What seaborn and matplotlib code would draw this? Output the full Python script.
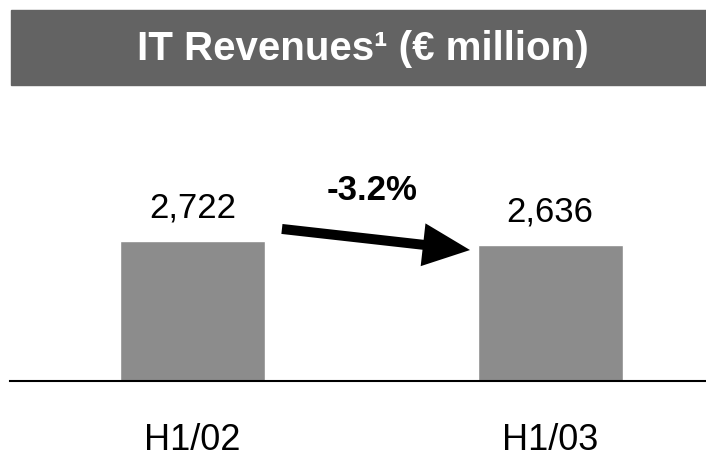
import matplotlib
matplotlib.use("Agg")
import matplotlib.pyplot as plt
from matplotlib.patches import Rectangle
import pandas as pd
import seaborn as sns

periods = ["H1/02", "H1/03"]
revenues = [2722, 2636]
value_labels = ["2,722", "2,636"]
change_label = "-3.2%"
title = "IT Revenues\u00b9 (\u20ac million)"

sns.set_style("white")
plt.rcParams['font.family'] = ['Liberation Sans Narrow', 'Liberation Sans', 'DejaVu Sans']
plt.rcParams['text.color'] = 'black'
plt.rcParams['xtick.color'] = 'black'

df = pd.DataFrame({"period": periods, "revenue": revenues})

fig = plt.figure(figsize=(7.06, 4.59), dpi=100)
ax = fig.add_axes([10 / 706, 78 / 459, 696 / 706, 286 / 459])

bar_w = 0.406
sns.barplot(data=df, x="period", y="revenue", color="#8c8c8c", saturation=1,
            width=bar_w, ax=ax)

ax.set_xlim(-0.5105, 1.436)
ax.set_ylim(0, 286 * revenues[0] / 140)
ax.set_xlabel("")
ax.set_ylabel("")
ax.set_yticks([])
for s in ["top", "left", "right"]:
    ax.spines[s].set_visible(False)
ax.spines["bottom"].set_color("black")
ax.spines["bottom"].set_linewidth(1.5)
ax.tick_params(axis="x", length=0, pad=30, labelsize=26, labelcolor="black")

# value labels over the bars
for i, (v, lab) in enumerate(zip(revenues, value_labels)):
    ax.annotate(lab, (i, v), xytext=(0, 12), textcoords="offset points",
                ha="center", va="bottom", fontsize=25, color="black")

# change arrow
ax.annotate("", xy=(0.776, revenues[1] * 0.966), xytext=(0.25, revenues[0] * 1.086),
            arrowprops=dict(arrowstyle="simple,head_length=1.7,head_width=1.55,tail_width=0.36",
                            mutation_scale=20, lw=0, color="black",
                            shrinkA=0, shrinkB=0))
ax.text(0.502, revenues[0] * 1.364, change_label, ha="center", va="center",
        fontsize=25, fontweight="bold", color="black")

# title banner
fig.patches.append(Rectangle((11 / 706, 1 - 85 / 459), 695 / 706, 75 / 459,
                             transform=fig.transFigure, color="#636363", zorder=0))
fig.text(363 / 706, 1 - 49 / 459, title, ha="center", va="center",
         color="white", fontsize=29, fontweight="bold")

fig.savefig("out.png", dpi=100)
